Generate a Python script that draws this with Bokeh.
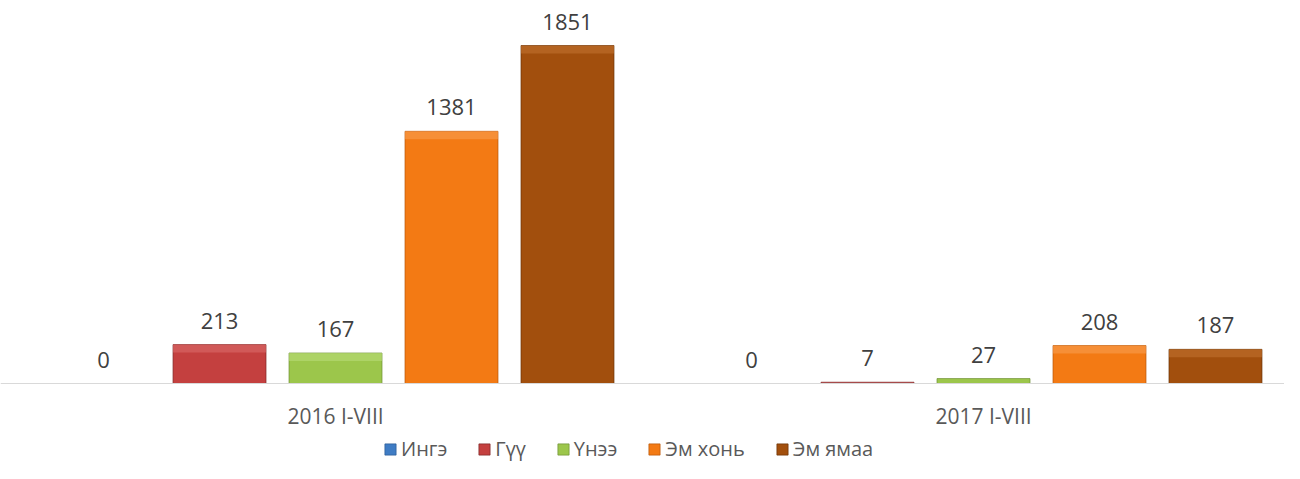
from bokeh.plotting import figure
from bokeh.models import ColumnDataSource, Range1d, FixedTicker, Legend, LegendItem
from bokeh.transform import dodge
from bokeh.core.properties import value
from bokeh.embed import file_html
from bokeh.resources import INLINE

groups = ["2016 I-VIII", "2017 I-VIII"]
series = ["Ингэ", "Гүү", "Үнээ", "Эм хонь", "Эм ямаа"]
values = {
    "Ингэ": [0, 0],
    "Гүү": [213, 7],
    "Үнээ": [167, 27],
    "Эм хонь": [1381, 208],
    "Эм ямаа": [1851, 187],
}
colors = ["#3F7CC4", "#C4403F", "#9CC64B", "#F37A14", "#A24F0D"]
tops = ["#6C9BD6", "#DA6B69", "#B9DC78", "#F99D4F", "#C0712F"]
edges = ["#2A5A94", "#7E2626", "#6E9033", "#B8570A", "#6A3205"]

FONT = "Open Sans"
PX = 338 / 1851  # pixels per unit

p = figure(frame_width=1284, frame_height=463, output_backend="svg", toolbar_location=None,
           x_range=Range1d(-0.517, 1.4645), y_range=Range1d(-80 / PX, 383 / PX),
           min_border_left=0, min_border_right=0, min_border_top=0, min_border_bottom=0)
p.outline_line_color = None
p.background_fill_color = "white"
p.border_fill_color = "white"
p.grid.visible = False
p.yaxis.visible = False

xpos = [0, 1]
offsets = [-0.358, -0.179, 0.0, 0.179, 0.358]
bw = 0.1435
bevel = 8 / PX

items = []
for s, c, t, e, off in zip(series, colors, tops, edges, offsets):
    vals = values[s]
    hl_bottom = [max(v - bevel, 0) if v >= 3 * bevel else v for v in vals]
    src = ColumnDataSource(dict(x=xpos, top=vals, hb=hl_bottom, lab=[str(v) for v in vals]))
    xd = dodge("x", off, range=p.x_range)
    r = p.vbar(x=xd, top="top", bottom=0, width=bw, source=src,
               fill_color=c, line_color=e, line_width=1, line_alpha=0.7)
    p.vbar(x=xd, top="top", bottom="hb", width=bw, source=src,
           fill_color=t, fill_alpha=0.6, line_color=None)
    p.text(x=xd, y="top", text="lab", source=src,
           text_align="center", text_baseline="bottom", y_offset=-16,
           text_font=value(FONT), text_font_size="22px", text_color="#404040")
    items.append(LegendItem(label=s, renderers=[r]))

ax = p.xaxis[0]
ax.fixed_location = 0
ax.ticker = FixedTicker(ticks=xpos)
ax.major_label_overrides = {0: groups[0], 1: groups[1]}
ax.major_tick_line_color = None
ax.minor_tick_line_color = None
ax.major_tick_out = 0
ax.axis_line_color = "#D9D9D9"
ax.axis_line_width = 1
ax.major_label_text_font = FONT
ax.major_label_text_font_size = "21px"
ax.major_label_text_color = "#595959"
ax.major_label_standoff = 18

legend = Legend(items=items, orientation="horizontal", location=(383, 1),
                label_text_font=FONT, label_text_font_size="20px", label_text_color="#595959",
                label_height=20, glyph_width=14, glyph_height=14, label_standoff=4, spacing=30,
                border_line_color=None, background_fill_alpha=0, padding=0, margin=0)
p.add_layout(legend, "center")

open("out.html", "w").write(file_html(p, INLINE))
